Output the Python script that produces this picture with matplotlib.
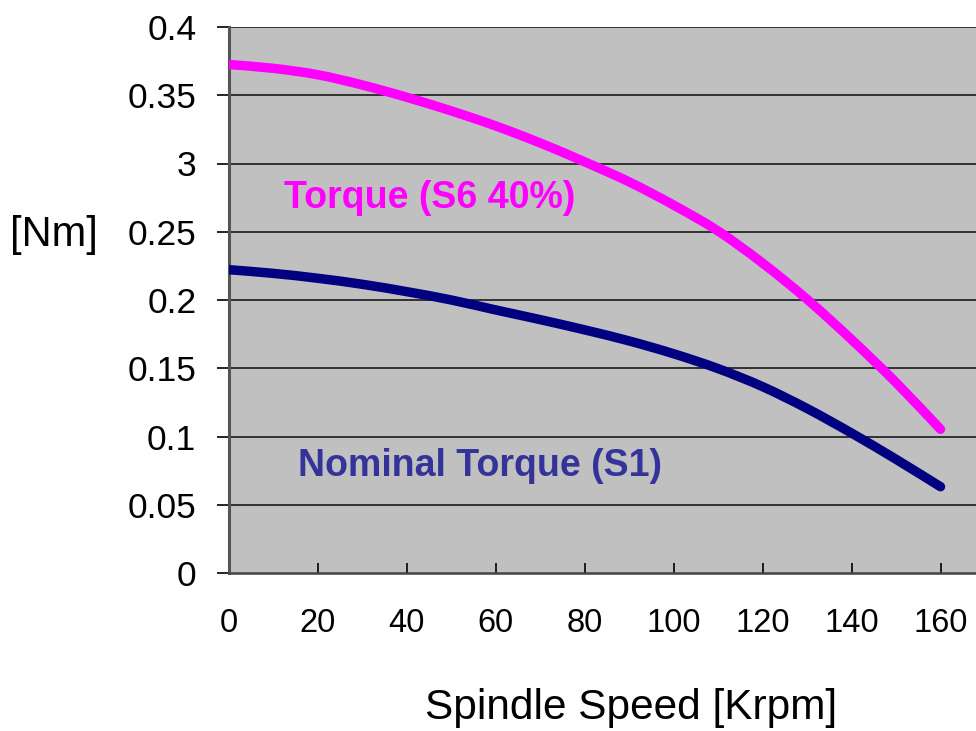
import matplotlib
matplotlib.use("Agg")
import matplotlib.pyplot as plt
from matplotlib.path import Path
from matplotlib.patches import PathPatch

speed = [0, 10, 20, 30, 40, 50, 60, 70, 80, 90, 100, 110, 120, 130, 140, 150, 160]
torque_s6 = [0.3725, 0.3697, 0.3650, 0.3575, 0.3485, 0.3385, 0.3275, 0.3150, 0.3012,
             0.2865, 0.2695, 0.2505, 0.2270, 0.2005, 0.1710, 0.1395, 0.1053]
torque_s1 = [0.2222, 0.2195, 0.2159, 0.2115, 0.2061, 0.2000, 0.1927, 0.1856, 0.1781,
             0.1700, 0.1606, 0.1497, 0.1365, 0.1205, 0.1025, 0.0833, 0.0632]
x_ticks = [0, 20, 40, 60, 80, 100, 120, 140, 160]
y_ticks = [0, 0.05, 0.1, 0.15, 0.2, 0.25, 0.3, 0.35, 0.4]
y_tick_labels = ["0", "0.05", "0.1", "0.15", "0.2", "0.25", "3", "0.35", "0.4"]

plt.rcParams['font.family'] = ['Liberation Sans', 'DejaVu Sans']


def smooth_path(xs, ys):
    """Smoothed (Catmull-Rom style) line through the data points, like a spreadsheet's smoothed line."""
    verts = [(xs[0], ys[0])]
    codes = [Path.MOVETO]
    n = len(xs)
    for i in range(n - 1):
        x0, y0 = (xs[i - 1], ys[i - 1]) if i > 0 else (xs[i], ys[i])
        x1, y1 = xs[i], ys[i]
        x2, y2 = xs[i + 1], ys[i + 1]
        x3, y3 = (xs[i + 2], ys[i + 2]) if i + 2 < n else (xs[i + 1], ys[i + 1])
        c1 = (x1 + (x2 - x0) / 6.0, y1 + (y2 - y0) / 6.0)
        c2 = (x2 - (x3 - x1) / 6.0, y2 - (y3 - y1) / 6.0)
        verts += [c1, c2, (x2, y2)]
        codes += [Path.CURVE4, Path.CURVE4, Path.CURVE4]
    return Path(verts, codes)


fig = plt.figure(figsize=(9.76, 7.31), dpi=100)
ax = fig.add_axes([229/976, 1 - 573/731, 1 - 229/976 + 0.001, (573 - 27)/731])
ax.set_facecolor('#C0C0C0')

ax.set_xlim(0, 168.2)
ax.set_ylim(0, 0.4)

for y in y_ticks[1:]:
    ax.axhline(y, color='#1a1a1a', lw=1.2, zorder=1)

for ys, col in [(torque_s6, '#FF00FF'), (torque_s1, '#000080')]:
    patch = PathPatch(smooth_path(speed, ys), facecolor='none', edgecolor=col, lw=6.8,
                      capstyle='round', joinstyle='round', zorder=3)
    ax.add_patch(patch)

ax.set_xticks(x_ticks)
ax.set_xticklabels([str(v) for v in x_ticks])
ax.set_yticks(y_ticks)
ax.set_yticklabels(y_tick_labels)
ax.tick_params(axis='x', direction='in', length=7.5, width=1.2, labelsize=23.5, pad=25, colors='black')
ax.tick_params(axis='y', direction='out', length=8.5, width=1.2, labelsize=25.5, pad=15, colors='black')

for s in ['top', 'right']:
    ax.spines[s].set_visible(False)
ax.spines['left'].set_color('#555555')
ax.spines['left'].set_linewidth(2.2)
ax.spines['bottom'].set_color('#444444')
ax.spines['bottom'].set_linewidth(1.8)

fig.text(284/976, 1 - 198/731, "Torque (S6 40%)", color='#FF00FF', fontsize=27,
         fontweight='bold', ha='left', va='center')
fig.text(298/976, 1 - 466/731, "Nominal Torque (S1)", color='#333399', fontsize=27,
         fontweight='bold', ha='left', va='center')

fig.text(10/976, 1 - 235/731, "[Nm]", fontsize=30, ha='left', va='center')
fig.text(631/976, 1 - 708/731, "Spindle Speed [Krpm]", fontsize=30.5, ha='center', va='center')

fig.savefig("out.png", dpi=100)
